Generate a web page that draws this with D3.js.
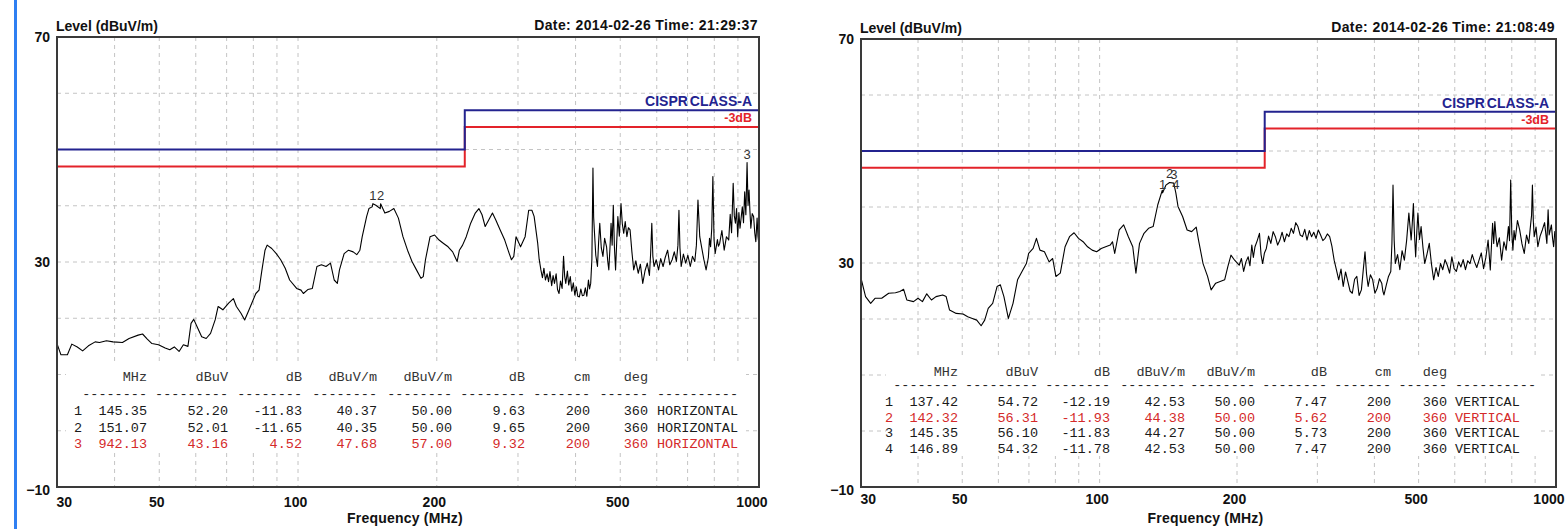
<!DOCTYPE html>
<html><head><meta charset="utf-8">
<script src="https://cdn.jsdelivr.net/npm/d3@7"></script>
<style>
html,body{margin:0;padding:0;background:#fff;}
svg{display:block;}
</style></head><body>
<svg id="c" width="1568" height="529"></svg>
<script>
// ---------- axis / grid values ----------
const yTickLabels = [70, 30, -10];
const xTickLabels = [30, 50, 100, 200, 500, 1000];
const gridFreqs = [40, 50, 60, 70, 80, 90, 100, 200, 300, 400, 500, 600, 700, 800, 900];
const gridLevels = [60, 50, 40, 30, 20, 10, 0];

// ---------- limit lines (dBuV/m) ----------
const limitClassA = [[30, 50], [230, 50], [230, 57], [1000, 57]];
const limitMargin3 = [[30, 47], [230, 47], [230, 54], [1000, 54]];

// ---------- horizontal scan: [MHz, dBuV/m] ----------
const traceH = [[30,15.5],[30.6,13.5],[31.6,13.5],[32.3,15.4],[33.2,14.9],[34.1,14.2],[35.1,15.1],[36.3,15.8],[37.1,15.7],[38.4,16.0],[39.7,15.8],[41.6,15.7],[43.0,16.4],[45.0,17.0],[46.0,17.2],[47.1,16.3],[48.2,15.5],[49.8,15.3],[51.5,14.7],[52.7,14.4],[53.9,14.9],[55.2,14.1],[56.4,15.3],[57.7,15.0],[58.6,19.1],[59.4,19.8],[60.4,18.5],[61.8,16.7],[63.2,16.4],[64.6,17.3],[66.1,19.7],[67.1,22.1],[68.7,21.5],[70.7,22.7],[72.4,23.5],[73.5,22.1],[75.2,20.9],[76.6,19.7],[78.3,21.5],[81.0,24.4],[82.3,25.0],[83.4,28.3],[84.8,32.1],[85.7,33.0],[87.7,32.4],[89.7,31.5],[91.7,30.4],[93.8,28.9],[95.9,26.8],[99.3,25.3],[101.5,25.0],[102.7,24.4],[105.0,25.1],[107.4,25.3],[109.9,29.2],[112.4,29.5],[115.0,29.2],[117.6,29.8],[119.8,26.8],[121.7,26.2],[123.0,28.6],[125.9,31.5],[128.7,32.1],[131.7,31.8],[134.1,31.3],[136.2,32.1],[137.8,34.5],[140.9,38.1],[142.5,39.5],[144.8,39.8],[145.35,40.37],[147.5,40.1],[150.8,39.5],[151.07,40.35],[154.3,38.7],[157.8,39.0],[161.4,39.5],[165.1,37.8],[168.9,34.5],[172.8,32.1],[176.7,30.1],[180.7,28.6],[184.8,27.1],[186.9,27.4],[189.0,30.4],[193.4,34.5],[197.8,34.8],[202.3,33.9],[206.9,33.3],[211.6,32.7],[216.5,31.8],[221.4,30.1],[223.9,32.1],[227.5,33.0],[231.7,34.5],[236.9,36.9],[242.4,38.7],[246.8,39.5],[250.7,38.4],[254.7,36.3],[259.4,37.5],[264.1,38.7],[268.4,37.5],[274.5,35.7],[280.8,33.9],[287.2,31.5],[290.4,30.4],[293.8,31.0],[297.1,34.5],[303.9,32.7],[310.9,34.5],[316.5,39.2],[321.6,39.2],[325.2,38.1],[331.1,33.3],[333.5,30.5],[336.4,28.6],[339,27.2],[341.5,28.9],[344.1,26.8],[347,27.9],[349.5,26.5],[352.0,28.3],[355,25.8],[357.5,27.6],[360.0,26.2],[363,27.9],[365.5,25.1],[368.3,24.4],[371,26.6],[374,25.3],[376.7,31.0],[378.8,27.5],[380.9,26.2],[384,28.4],[386.5,25.9],[389.6,27.4],[392.5,24.8],[395.5,26.3],[398.6,24.1],[401.5,25.6],[404.5,23.9],[407.7,23.8],[410.7,25.2],[413.8,24.0],[417.0,24.1],[420,25.4],[423.2,23.9],[426.6,26.8],[429,25.2],[431.4,26.2],[434,30.5],[436.3,46.7],[437.8,38.0],[439.3,35.7],[442.5,31.2],[446.3,29.2],[448.8,33.5],[451.4,36.9],[454.9,32.5],[458.6,31.0],[462.5,34.2],[467.0,32.7],[469.8,30.1],[472.3,28.6],[475,32.5],[477.6,36.9],[480.2,33.0],[483.0,40.1],[485.6,32.8],[488.5,28.6],[491.2,33.4],[494.1,38.1],[497.8,34.6],[501.9,40.4],[505.2,36.8],[508.8,35.1],[512.6,37.2],[516.9,34.5],[520.8,36.1],[525.2,35.7],[530,31.8],[534.8,28.6],[540.5,30.2],[547.0,28.0],[553,29.6],[559.5,26.2],[565.8,28.4],[572.3,29.8],[578.5,27.6],[582,31.5],[585.4,36.9],[588.5,31.0],[592.0,29.2],[598.5,30.4],[605.5,28.6],[612,30.6],[619.3,29.2],[626,30.8],[633.5,32.1],[640.5,29.5],[648.0,30.4],[655,31.8],[662,30.1],[667,33.0],[670.4,39.2],[673.8,32.5],[678.0,29.2],[685.5,31.4],[693.5,29.8],[701,31.2],[709.4,29.2],[717.4,31.0],[725.6,30.1],[731.5,33.0],[737.2,41.0],[743.8,34.5],[750.6,32.7],[759,30.5],[767.8,28.6],[776.5,30.8],[781,34.2],[785.3,32.7],[789.8,36.0],[794.2,45.2],[798.8,34.0],[803.3,31.5],[812.4,34.0],[816.5,32.8],[821.6,33.3],[830.8,35.6],[840.4,32.1],[850,34.5],[859.6,33.9],[866,38.5],[872,35.2],[879.0,44.0],[884,38.2],[889.0,36.9],[894,39.5],[899.1,34.5],[904.5,38.8],[909.5,36.0],[914.8,37.9],[920.0,39.8],[925.5,37.0],[931,42.5],[936.5,38.4],[942.13,47.68],[946.8,40.1],[951.5,42.8],[955.8,39.0],[960,36.0],[966.8,38.6],[973.4,38.1],[979,35.2],[984.2,33.6],[990.5,37.8],[995,34.6],[1000,33.0]];

// ---------- vertical scan: [MHz, dBuV/m] ----------
const traceV = [[30,27.3],[30.7,24.0],[31.5,22.8],[32.2,23.7],[33.3,23.7],[34.5,24.6],[35.7,24.7],[36.5,24.9],[37.2,25.3],[37.8,23.4],[39.1,23.1],[40.0,23.7],[40.9,23.1],[41.8,24.5],[42.8,23.4],[43.8,24.0],[45.3,24.3],[46.1,24.0],[46.9,21.6],[48.5,21.0],[50.2,20.9],[51.4,20.4],[52.6,20.1],[53.8,19.8],[55.0,18.8],[56.0,19.8],[57.0,21.9],[58.3,22.8],[59.6,25.8],[60.6,26.1],[61.7,24.0],[63.1,20.1],[64.6,22.8],[66.1,27.0],[67.6,28.5],[69.1,29.9],[69.9,31.7],[71.5,32.6],[72.7,34.4],[74.0,32.3],[75.7,32.0],[77.5,30.2],[78.9,30.8],[80.2,27.6],[82.0,28.2],[84.0,32.9],[85.9,34.7],[87.9,35.4],[89.9,34.4],[92.0,33.8],[94.1,32.9],[96.3,32.3],[98.5,32.0],[100.8,32.6],[103.1,32.9],[105.5,33.2],[106.7,33.8],[107.9,31.7],[110.4,35.9],[112.9,36.8],[115.6,34.7],[118.2,32.9],[120.1,28.2],[122.3,33.5],[125.1,35.3],[128.0,36.2],[131.0,36.5],[134.1,40.4],[137.2,43.0],[137.42,42.53],[139.7,43.9],[142.32,44.38],[145.35,44.27],[146.89,42.53],[148.5,40.1],[152.0,38.3],[155.5,35.9],[159.1,35.6],[162.8,36.4],[164.7,34.1],[168.5,29.9],[172.4,27.6],[175.5,25.2],[179.6,26.4],[183.7,26.7],[187.9,27.0],[190.9,29.3],[194.0,31.4],[197.6,30.5],[202.2,29.6],[204.5,30.8],[206.8,28.5],[209.2,30.2],[211.6,31.1],[213.5,29.5],[215.5,33.2],[217.2,31.0],[219.0,32.9],[221.5,34.0],[224.0,35.3],[225.8,31.5],[227.6,29.9],[229.7,31.8],[231.9,32.6],[234.5,34.8],[237.2,33.5],[240,35.6],[242.7,34.7],[245.5,33.2],[248.3,34.1],[251.1,35.5],[254.0,33.8],[257,35.2],[259.9,34.7],[262.9,36.2],[265.9,35.3],[269,37.2],[272.0,36.5],[275.1,35.0],[278.3,34.7],[281.5,36.0],[284.7,34.1],[288,35.8],[291.3,34.7],[294.6,35.5],[298.0,34.4],[301.4,35.9],[304.9,35.0],[308.4,34.0],[311.9,34.4],[315.5,35.2],[319.2,34.7],[322.8,33.0],[326.5,30.5],[330.2,28.8],[334.1,27.0],[338,28.9],[341.8,25.8],[345.8,28.4],[349.8,26.7],[353.8,25.0],[357.8,24.6],[362,27.1],[366.1,27.6],[370.3,24.2],[374.6,25.2],[378,28.6],[381.5,32.0],[384.5,28.0],[387.6,25.8],[392,27.9],[396.6,27.0],[401,24.6],[405.7,25.5],[410.4,27.2],[415.1,26.4],[417.4,25.0],[419.8,24.3],[424.6,26.0],[429.5,27.6],[434.5,28.5],[437,33.5],[439.4,43.9],[442,34.0],[444.5,29.9],[449.6,31.5],[454.8,28.8],[460,32.2],[465.3,30.5],[470.6,34.0],[476.0,38.9],[481.5,34.1],[484.2,37.0],[487.0,40.6],[489.8,35.0],[492.6,31.1],[495.4,35.5],[498.2,38.9],[502.2,34.2],[506.3,36.5],[511,32.8],[515.6,29.9],[521.6,31.6],[527.6,33.5],[533.5,29.8],[539.5,27.0],[545.8,29.2],[552.1,27.6],[558.4,29.9],[564.8,28.8],[571.3,30.6],[577.9,29.6],[584.6,28.2],[591.3,31.1],[598.1,29.0],[604.9,28.5],[611.9,30.2],[618.9,29.3],[626,30.6],[633.3,28.8],[640.6,30.4],[647.9,29.9],[655.4,31.5],[662.9,30.2],[670.5,29.2],[678.2,30.5],[686,31.8],[693.9,29.0],[702,31.0],[709.9,34.1],[713.8,31.5],[717.8,28.75],[722,33.0],[726.2,37.1],[730.3,33.5],[734.5,37.4],[738.7,34.8],[742.9,32.9],[751.4,34.5],[760.0,30.5],[768.8,33.8],[777.6,32.3],[786.6,36.5],[791,34.0],[795.6,44.8],[800,35.5],[804.6,32.3],[809.2,35.8],[813.9,34.1],[823.2,37.6],[832.6,35.9],[842.3,33.4],[852.0,31.7],[861.8,35.0],[871.6,33.5],[879.6,36.8],[884,38.5],[887.8,43.9],[891.8,37.5],[895.9,34.7],[904.2,36.4],[912.5,32.9],[922.9,34.8],[933.3,35.9],[944,37.2],[955.0,33.5],[961,39.5],[966,35.0],[977.0,36.8],[982.5,34.5],[988.1,32.9],[994,35.6],[1000,34.0]];

// ---------- peak tables ----------
const tableHeader = ["MHz", "dBuV", "dB", "dBuV/m", "dBuV/m", "dB", "cm", "deg"];
const dashCounts = [8, 9, 8, 8, 8, 8, 7, 6, 10];

const hNo = ["1", "2", "3"];
const hFreq = [145.35, 151.07, 942.13];
const hRead = ["52.20", "52.01", "43.16"];
const hFactor = ["-11.83", "-11.65", "4.52"];
const hLevel = [40.37, 40.35, 47.68];
const hLimit = ["50.00", "50.00", "57.00"];
const hMargin = ["9.63", "9.65", "9.32"];
const hHeight = ["200", "200", "200"];
const hAngle = ["360", "360", "360"];
const hPol = ["HORIZONTAL", "HORIZONTAL", "HORIZONTAL"];
const hRed = [false, false, true];

const vNo = ["1", "2", "3", "4"];
const vFreq = [137.42, 142.32, 145.35, 146.89];
const vRead = ["54.72", "56.31", "56.10", "54.32"];
const vFactor = ["-12.19", "-11.93", "-11.83", "-11.78"];
const vLevel = [42.53, 44.38, 44.27, 42.53];
const vLimit = ["50.00", "50.00", "50.00", "50.00"];
const vMargin = ["7.47", "5.62", "5.73", "7.47"];
const vHeight = ["200", "200", "200", "200"];
const vAngle = ["360", "360", "360", "360"];
const vPol = ["VERTICAL", "VERTICAL", "VERTICAL", "VERTICAL"];
const vRed = [false, true, false, false];

const stampH = "Date: 2014-02-26  Time: 21:29:37";
const stampV = "Date: 2014-02-26  Time: 21:08:49";

// ---------- drawing ----------
const svg = d3.select("#c");
const SANS = "'Liberation Sans', Arial, sans-serif";
const MONO = "'Liberation Mono', 'DejaVu Sans Mono', monospace";
const NAVY = "#23238f", RED = "#e3232a", TXTRED = "#d42a2a";

// page accent bar
svg.append("rect").attr("x", 14).attr("y", 0).attr("width", 3).attr("height", 529).attr("fill", "#2f7ff2");

function fmt(v) { return v.toFixed(2); }

function drawPanel(p) {
  const g = svg.append("g");
  const x = d3.scaleLog().domain([30, 1000]).range([p.x0, p.x1]);
  const y = d3.scaleLinear().domain([-10, 70]).range([p.y1, p.y0]);
  const clipId = "clip" + p.id;
  svg.append("clipPath").attr("id", clipId).append("rect")
    .attr("x", p.x0).attr("y", p.y0).attr("width", p.x1 - p.x0).attr("height", p.y1 - p.y0);

  // grid
  g.append("g").selectAll("line").data(gridFreqs).join("line")
    .attr("x1", d => x(d)).attr("x2", d => x(d)).attr("y1", p.y0).attr("y2", p.y1)
    .attr("stroke", "#c4c4c4").attr("stroke-width", 1).attr("stroke-dasharray", "4,4");
  g.append("g").selectAll("line").data(gridLevels).join("line")
    .attr("x1", p.x0).attr("x2", p.x1).attr("y1", d => y(d)).attr("y2", d => y(d))
    .attr("stroke", "#c4c4c4").attr("stroke-width", 1).attr("stroke-dasharray", "4,4");

  // table backdrop
  g.append("rect").attr("x", p.tbl.bx0).attr("y", p.tbl.by0)
    .attr("width", p.tbl.bx1 - p.tbl.bx0).attr("height", p.tbl.by1 - p.tbl.by0).attr("fill", "#fff");

  // limits
  const line = d3.line().x(d => x(d[0])).y(d => y(d[1]));
  g.append("path").datum(limitMargin3).attr("d", line).attr("fill", "none")
    .attr("stroke", RED).attr("stroke-width", 2);
  g.append("path").datum(limitClassA).attr("d", line).attr("fill", "none")
    .attr("stroke", NAVY).attr("stroke-width", 2);
  g.append("text").attr("x", p.x1 - 7).attr("y", y(57) - 4).attr("text-anchor", "end")
    .attr("font-family", SANS).attr("font-weight", "bold").attr("font-size", 14)
    .attr("word-spacing", -2).attr("fill", NAVY).text("CISPR CLASS-A");
  g.append("text").attr("x", p.x1 - 7).attr("y", y(54) - 5).attr("text-anchor", "end")
    .attr("font-family", SANS).attr("font-weight", "bold").attr("font-size", 12.5)
    .attr("fill", RED).text("-3dB");

  // trace
  g.append("path").datum(p.trace).attr("d", line).attr("fill", "none")
    .attr("clip-path", `url(#${clipId})`)
    .attr("stroke", "#000").attr("stroke-width", 1.1).attr("stroke-linejoin", "round");

  // marker labels
  g.append("g").selectAll("text").data(p.mk.freq.map((f, i) => ({ f, l: p.mk.level[i], n: p.mk.no[i] })))
    .join("text").attr("x", d => x(d.f)).attr("y", d => y(d.l) - 4).attr("text-anchor", "middle")
    .attr("font-family", SANS).attr("font-size", 13).attr("fill", "#333").text(d => d.n);

  // peak table
  const t = p.tbl, L = p.x0;
  const tg = g.append("g").attr("font-family", MONO).attr("font-size", 13.5);
  const edges = [t.c.freq, t.c.read, t.c.factor, t.c.level, t.c.limit, t.c.margin, t.c.height, t.c.angle];
  tableHeader.forEach((h, i) => tg.append("text").attr("x", L + edges[i]).attr("y", t.headY)
    .attr("text-anchor", "end").attr("fill", "#333").text(h));
  dashCounts.forEach((n, i) => {
    const s = "-".repeat(n);
    if (i < edges.length) tg.append("text").attr("x", L + edges[i]).attr("y", t.dashY).attr("text-anchor", "end").attr("fill", "#222").text(s);
    else tg.append("text").attr("x", L + t.c.pol).attr("y", t.dashY).attr("fill", "#222").text(s);
  });
  p.mk.no.forEach((n, i) => {
    const yy = t.row0 + i * t.step;
    const col = p.mk.red[i] ? TXTRED : "#1a1a1a";
    const cells = [
      [t.c.no, n], [t.c.freq, fmt(p.mk.freq[i])], [t.c.read, p.mk.read[i]], [t.c.factor, p.mk.factor[i]],
      [t.c.level, fmt(p.mk.level[i])], [t.c.limit, p.mk.limit[i]], [t.c.margin, p.mk.margin[i]],
      [t.c.height, p.mk.height[i]], [t.c.angle, p.mk.angle[i]]
    ];
    cells.forEach(([cx, s]) => tg.append("text").attr("x", L + cx).attr("y", yy)
      .attr("text-anchor", "end").attr("fill", col).text(s));
    tg.append("text").attr("x", L + t.c.pol).attr("y", yy).attr("fill", col).text(p.mk.pol[i]);
  });

  // frame
  g.append("rect").attr("x", p.x0).attr("y", p.y0).attr("width", p.x1 - p.x0).attr("height", p.y1 - p.y0)
    .attr("fill", "none").attr("stroke", "#3a3a3a").attr("stroke-width", 2);

  // y axis labels
  const ya = g.append("g").attr("transform", `translate(${p.x0},0)`)
    .call(d3.axisLeft(y).tickValues(yTickLabels).tickSize(0).tickPadding(7).tickFormat(d3.format("d")));
  ya.select(".domain").remove();
  ya.selectAll("text").attr("font-family", SANS).attr("font-weight", "bold").attr("font-size", 14).attr("fill", "#111")
    .attr("dy", d => d === -10 ? "0.55em" : "0.35em");

  // x axis labels
  const xa = g.append("g").attr("transform", `translate(0,${p.y1})`)
    .call(d3.axisBottom(x).tickValues(xTickLabels).tickSize(0).tickPadding(0).tickFormat(d3.format("d")));
  xa.select(".domain").remove();
  xa.selectAll("text").attr("font-family", SANS).attr("font-weight", "bold").attr("font-size", 14).attr("fill", "#111")
    .attr("y", p.xLabelY).attr("dy", 0)
    .attr("text-anchor", d => d === 30 ? "start" : d === 1000 ? "end" : "middle")
    .attr("dx", d => d === 30 ? -1 : d === 1000 ? 8 : -3);

  // titles
  g.append("text").attr("x", p.x0 - 1).attr("y", p.y0 - 6).attr("font-family", SANS).attr("font-weight", "bold")
    .attr("font-size", 14).attr("fill", "#111").text("Level (dBuV/m)");
  g.append("text").attr("x", p.x1 - 1).attr("y", p.y0 - 7).attr("text-anchor", "end").attr("font-family", SANS)
    .attr("font-weight", "bold").attr("font-size", 14).attr("letter-spacing", 0.4).attr("fill", "#111").text(p.stamp);
  g.append("text").attr("x", (p.x0 + p.x1) / 2 - 3).attr("y", p.y1 + 36).attr("text-anchor", "middle").attr("font-family", SANS)
    .attr("font-weight", "bold").attr("font-size", 14).attr("letter-spacing", 0.2).attr("fill", "#111").text("Frequency (MHz)");
}

drawPanel({
  id: "H", x0: 57, x1: 759, y0: 37, y1: 487, xLabelY: 20, trace: traceH, stamp: stampH,
  mk: { no: hNo, freq: hFreq, read: hRead, factor: hFactor, level: hLevel, limit: hLimit, margin: hMargin, height: hHeight, angle: hAngle, pol: hPol, red: hRed },
  tbl: { bx0: 66, bx1: 746, by0: 364, by1: 452, headY: 381, dashY: 398, row0: 415, step: 16.5,
         c: { no: 25, freq: 90, read: 171, factor: 245, level: 320, limit: 395, margin: 468, height: 533, angle: 591, pol: 600 } }
});
drawPanel({
  id: "V", x0: 861, x1: 1556, y0: 39, y1: 487, xLabelY: 17, trace: traceV, stamp: stampV,
  mk: { no: vNo, freq: vFreq, read: vRead, factor: vFactor, level: vLevel, limit: vLimit, margin: vMargin, height: vHeight, angle: vAngle, pol: vPol, red: vRed },
  tbl: { bx0: 886, bx1: 1541, by0: 358, by1: 456, headY: 376, dashY: 389, row0: 406, step: 15.7,
         c: { no: 32, freq: 97, read: 177, factor: 249, level: 324, limit: 394, margin: 466, height: 530, angle: 586, pol: 594 } }
});
</script>
</body></html>
